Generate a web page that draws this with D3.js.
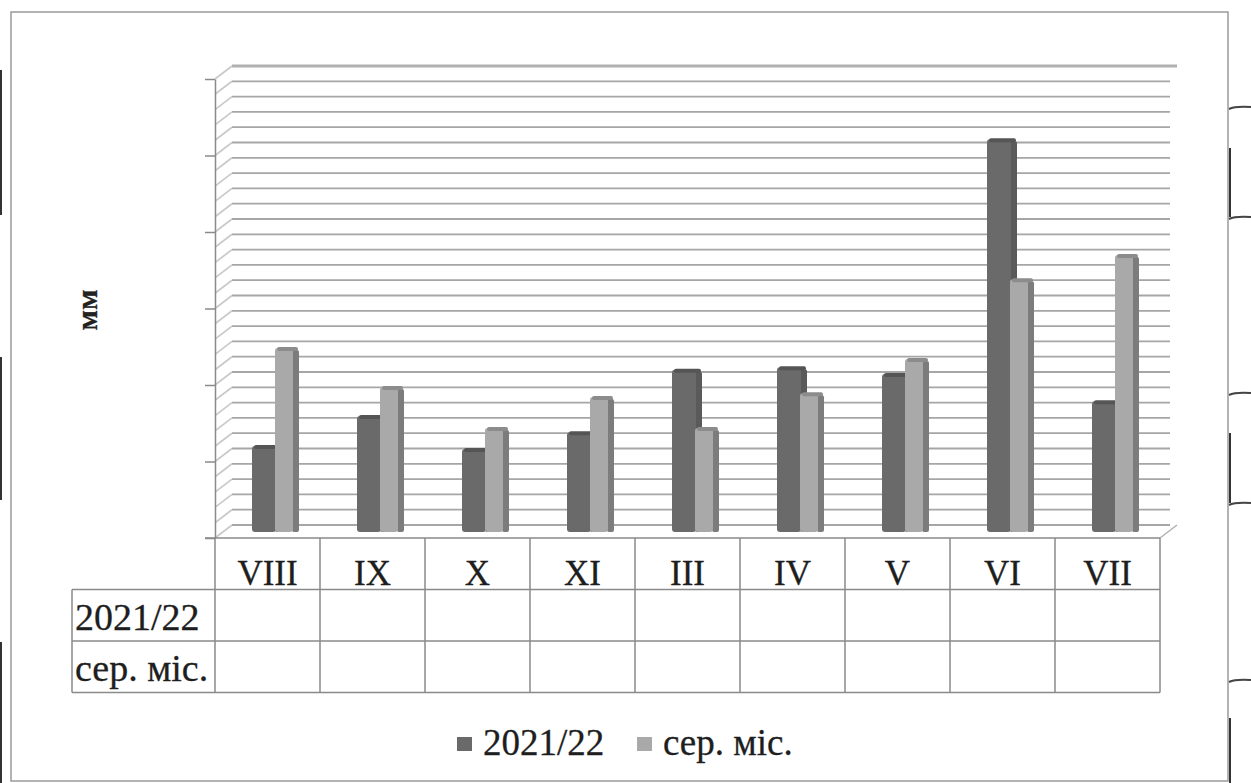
<!DOCTYPE html>
<html>
<head>
<meta charset="utf-8">
<script src="https://cdn.jsdelivr.net/npm/d3@7"></script>
<style>
  body { margin: 0; background: #fff; }
</style>
</head>
<body>
<div id="chart"></div>
<script>
// data (mm, estimated — the axis carries no numbers)
var months = ["VIII", "IX", "X", "XI", "III", "IV", "V", "VI", "VII"];
var seriesNames = ["2021/22", "сер. міс."];
var fact = [22.5, 30.3, 21.7, 26.1, 42.4, 43.1, 41.3, 102.7, 34.2];
var norm = [48.1, 37.9, 27.2, 35.3, 27.2, 36.3, 45.2, 66.1, 72.4];
var majorTicks = [0, 20, 40, 60, 80, 100, 120];

var W = 1251, H = 783;
var depth = {dx: 17, dy: -13};
var plot = {left: 215, right: 1160, bottom: 538, top: 79};

// put the face straight on every text node
function serifText(t) {
  t.attr("font-family", "Liberation Serif")
   .style("font-family", "'Liberation Serif'")
   .attr("stroke", "#1e1e1e")
   .attr("stroke-width", 0.3);
}

var svg = d3.select("#chart")
  .append("svg")
    .attr("width", W)
    .attr("height", H);

// outer chart frame
svg.append("rect")
  .attr("x", 11).attr("y", 12)
  .attr("width", 1217).attr("height", 769)
  .attr("fill", "#fff")
  .attr("stroke", "#9a9a9a")
  .attr("stroke-width", 1.5);

// scan leftovers at the page edges
var edgeBits = [[0, 70, 215], [0, 357, 500], [0, 642, 783], [1229, 148, 217], [1229, 433, 503], [1229, 718, 783]];
svg.append("g").selectAll("line")
  .data(edgeBits)
  .join("line")
  .attr("x1", d => d[0] + 1).attr("x2", d => d[0] + 1)
  .attr("y1", d => d[1]).attr("y2", d => d[2])
  .attr("stroke", "#333").attr("stroke-width", 2);
svg.append("g").selectAll("path")
  .data([107, 217, 393, 503, 680])
  .join("path")
  .attr("d", d => "M1229," + (d + 2) + " Q1235," + (d - 1) + " 1251," + d)
  .attr("fill", "none")
  .attr("stroke", "#444").attr("stroke-width", 2);

var x = d3.scaleBand()
  .domain(months)
  .range([plot.left, plot.right]);

var yFront = d3.scaleLinear().domain([0, 120]).range([plot.bottom, plot.top]);
var yBack = d3.scaleLinear().domain([0, 120]).range([plot.bottom + depth.dy, plot.top + depth.dy]);
var yBar = d3.scaleLinear().domain([0, 120]).range([532, 73]);

var minor = d3.range(0, 121, 4);

// back wall and left wall gridlines
var grid = svg.append("g").attr("stroke", "#a6a6a6").attr("stroke-width", 1.8);
grid.selectAll("line.back")
  .data(minor.filter(v => v < 120))
  .join("line")
  .attr("class", "back")
  .attr("x1", plot.left + depth.dx).attr("x2", 1170)
  .attr("y1", d => yBack(d)).attr("y2", d => yBack(d));
grid.selectAll("line.side")
  .data(minor)
  .join("line")
  .attr("class", "side")
  .attr("x1", plot.left).attr("x2", plot.left + depth.dx)
  .attr("y1", d => yFront(d)).attr("y2", d => yBack(d))
  .attr("stroke", "#cacaca");
svg.append("line")
  .attr("x1", plot.left + depth.dx).attr("x2", plot.right + depth.dx)
  .attr("y1", yBack(120)).attr("y2", yBack(120))
  .attr("stroke", "#b0b0b0").attr("stroke-width", 3);
svg.append("line")
  .attr("x1", plot.right).attr("x2", plot.right + depth.dx)
  .attr("y1", plot.bottom).attr("y2", plot.bottom + depth.dy)
  .attr("stroke", "#b0b0b0").attr("stroke-width", 1.5);

// bars
var series = [
  {name: seriesNames[0], values: fact, off: 37, w: 24, fill: "#6a6a6a", side: "#5a5a5a", top: "#555"},
  {name: seriesNames[1], values: norm, off: 60, w: 18, fill: "#a9a9a9", side: "#7c7c7c", top: "#8c8c8c"}
];

series.forEach(function(s) {
  var g = svg.append("g");
  g.selectAll("rect.side")
    .data(s.values)
    .join("rect")
    .attr("class", "side")
    .attr("x", (d, i) => x(months[i]) + s.off + s.w - 1)
    .attr("y", d => yBar(d) + 2)
    .attr("width", 7)
    .attr("height", d => yBar(0) - yBar(d) - 2)
    .attr("rx", 2)
    .attr("fill", s.side);
  g.selectAll("rect.front")
    .data(s.values)
    .join("rect")
    .attr("class", "front")
    .attr("x", (d, i) => x(months[i]) + s.off)
    .attr("y", d => yBar(d))
    .attr("width", s.w)
    .attr("height", d => yBar(0) - yBar(d))
    .attr("rx", 3)
    .attr("fill", s.fill);
  g.selectAll("rect.cap")
    .data(s.values)
    .join("rect")
    .attr("class", "cap")
    .attr("x", (d, i) => x(months[i]) + s.off + 2)
    .attr("y", d => yBar(d) - 1)
    .attr("width", s.w + 3)
    .attr("height", 4)
    .attr("rx", 2)
    .attr("fill", s.top);
});

// value axis (no labels, ticks only)
var yAxis = d3.axisLeft(yFront).tickValues(majorTicks).tickFormat("").tickSize(10).tickSizeOuter(0);
svg.append("g")
  .attr("transform", "translate(" + plot.left + ",0)")
  .call(yAxis)
  .call(g => g.selectAll("line, path").attr("stroke", "#8a8a8a").attr("stroke-width", 1.5))
  .call(g => g.selectAll("text").remove());

svg.append("text")
  .attr("transform", "translate(97,310) rotate(-90)")
  .attr("text-anchor", "middle")
  .call(serifText)
  .attr("font-weight", "bold")
  .attr("font-size", 30)
  .attr("fill", "#222")
  .text("мм");

// data table under the axis
var rowH = 51.5;
var tbl = svg.append("g").attr("stroke", "#8a8a8a").attr("stroke-width", 1.5);
tbl.append("line")
  .attr("x1", 205).attr("x2", plot.right)
  .attr("y1", plot.bottom).attr("y2", plot.bottom);
[1, 2, 3].forEach(function(r) {
  tbl.append("line")
    .attr("x1", 72).attr("x2", plot.right)
    .attr("y1", plot.bottom + r * rowH).attr("y2", plot.bottom + r * rowH);
});
tbl.selectAll("line.col")
  .data(months.map(m => x(m)).concat([plot.right]))
  .join("line")
  .attr("class", "col")
  .attr("x1", d => d).attr("x2", d => d)
  .attr("y1", plot.bottom).attr("y2", plot.bottom + 3 * rowH);
tbl.append("line")
  .attr("x1", 72).attr("x2", 72)
  .attr("y1", plot.bottom + rowH).attr("y2", plot.bottom + 3 * rowH);

svg.append("g")
  .selectAll("text")
  .data(months)
  .join("text")
  .call(serifText)
  .attr("font-size", 35)
  .attr("fill", "#1e1e1e")
  .attr("text-anchor", "middle")
  .attr("x", d => x(d) + x.bandwidth() / 2)
  .attr("y", plot.bottom + 47)
  .text(d => d);

svg.append("g")
  .selectAll("text")
  .data(seriesNames)
  .join("text")
  .call(serifText)
  .attr("font-size", 38)
  .attr("fill", "#1e1e1e")
  .attr("x", 75)
  .attr("y", (d, i) => plot.bottom + rowH * (i + 1) + 40)
  .text(d => d);

// legend
var legend = svg.append("g");
var legendX = [457, 637];
series.forEach(function(s, i) {
  legend.append("rect")
    .attr("x", legendX[i]).attr("y", 737)
    .attr("width", 15).attr("height", 14)
    .attr("fill", s.fill);
  legend.append("text")
    .call(serifText)
    .attr("font-size", 37)
    .attr("fill", "#1e1e1e")
    .attr("x", legendX[i] + 26).attr("y", 755)
    .text(s.name);
});
</script>
</body>
</html>
